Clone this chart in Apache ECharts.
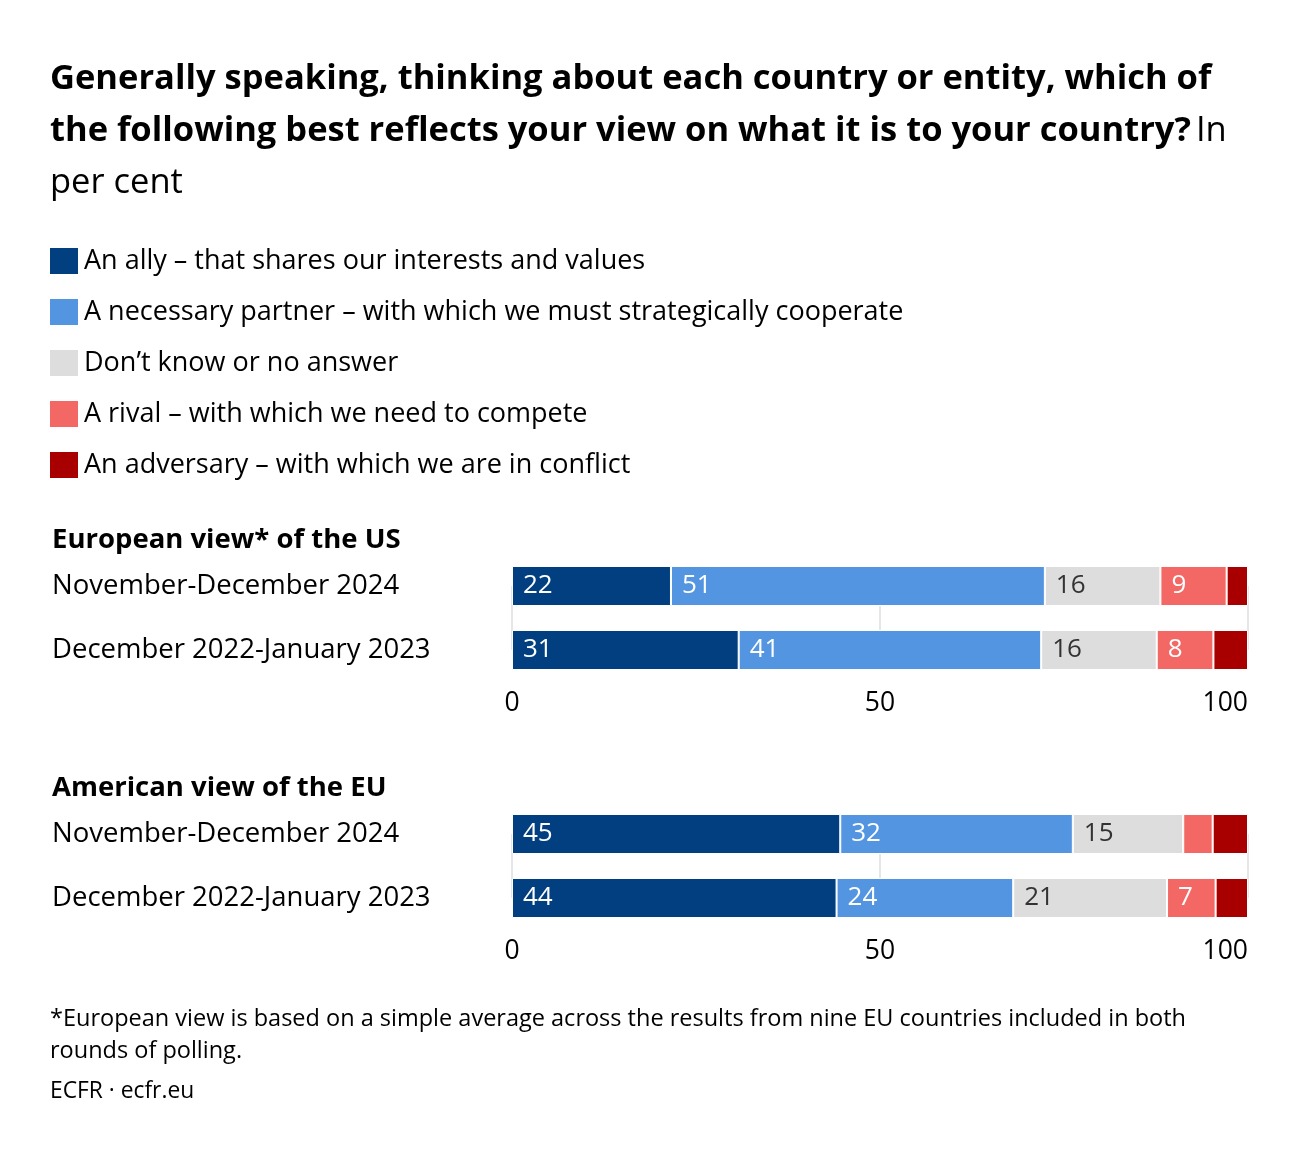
<!DOCTYPE html>
<html>
<head>
<meta charset="utf-8">
<script src="https://cdn.jsdelivr.net/npm/echarts@6/dist/echarts.min.js"></script>
<style>
html,body{margin:0;padding:0;background:#fff;}
#chart{width:1300px;height:1158px;}
</style>
</head>
<body>
<div id="chart"></div>
<script>
const categories = ['November-December 2024', 'December 2022-January 2023'];
const seriesNames = [
  'An ally – that shares our interests and values',
  'A necessary partner – with which we must strategically cooperate',
  'Don’t know or no answer',
  'A rival – with which we need to compete',
  'An adversary – with which we are in conflict'
];
const colors = ['#023f80', '#5395e1', '#dddddd', '#f36865', '#a80000'];
const labelColors = ['#ffffff', '#ffffff', '#333333', '#ffffff', '#ffffff'];

// European view of the US
const usAlly = [21.6, 30.8];
const usPartner = [50.8, 41.1];
const usDontKnow = [15.7, 15.7];
const usRival = [9.0, 7.7];
const usAdversary = [2.9, 4.7];

// American view of the EU
const euAlly = [44.6, 44.1];
const euPartner = [31.6, 24.0];
const euDontKnow = [15.0, 20.9];
const euRival = [4.0, 6.6];
const euAdversary = [4.8, 4.4];

const xTicks = [0, 50, 100];
const panelTitles = ['European view* of the US', 'American view of the EU'];

const FONT = 'Open Sans';
const usData = [usAlly, usPartner, usDontKnow, usRival, usAdversary];
const euData = [euAlly, euPartner, euDontKnow, euRival, euAdversary];

function makeSeries(dataSets, idx) {
  return dataSets.map((arr, i) => ({
    name: seriesNames[i],
    type: 'bar',
    stack: 'p' + idx,
    xAxisIndex: idx,
    yAxisIndex: idx,
    barWidth: 40,
    clip: false,
    data: arr,
    itemStyle: { color: colors[i], borderColor: '#ffffff', borderWidth: 1 },
    label: {
      show: true,
      position: 'insideLeft',
      distance: 11,
      color: labelColors[i],
      fontFamily: FONT,
      fontSize: 26,
      formatter: p => (p.value >= 6 ? String(Math.round(p.value)) : '')
    },
    emphasis: { disabled: true },
    silent: true
  }));
}

function xAxis(idx) {
  return {
    type: 'value', gridIndex: idx, min: 0, max: 100, interval: 50,
    axisLine: { show: false }, axisTick: { show: false },
    splitLine: { show: true, lineStyle: { color: '#e6e6e6', width: 2 } },
    axisLabel: {
      color: '#000', fontFamily: FONT, fontSize: 26.5, margin: 40,
      alignMaxLabel: 'right',
      formatter: v => (xTicks.indexOf(v) >= 0 ? String(v) : '')
    }
  };
}
function yAxis(idx) {
  return {
    type: 'category', gridIndex: idx, data: categories, inverse: true, boundaryGap: false,
    axisLine: { show: false }, axisTick: { show: false },
    axisLabel: { color: '#000', fontFamily: FONT, fontSize: 27.5, align: 'left', margin: 460 }
  };
}

const chart = echarts.init(document.getElementById('chart'), null, { renderer: 'canvas' });
chart.setOption({
  backgroundColor: '#ffffff',
  animation: false,
  title: [
    {
      left: 50, top: 53, padding: 0,
      text: '{b|Generally speaking, thinking about each country or entity, which of}\n{b|the following best reflects your view on what it is to your country?} {n|In}\n{n|per cent}',
      textStyle: {
        rich: {
          b: { fontFamily: FONT, fontWeight: 'bold', fontSize: 34.5, lineHeight: 52, color: '#000' },
          n: { fontFamily: FONT, fontWeight: 'normal', fontSize: 34.5, lineHeight: 52, color: '#000' }
        }
      }
    },
    { left: 52, top: 524, padding: 0, text: panelTitles[0], textStyle: { fontFamily: FONT, fontWeight: 'bold', fontSize: 27.5, color: '#000', lineHeight: 32 } },
    { left: 52, top: 772, padding: 0, text: panelTitles[1], textStyle: { fontFamily: FONT, fontWeight: 'bold', fontSize: 27.5, color: '#000', lineHeight: 32 } },
    {
      left: 50, top: 1003, padding: 0,
      text: '*European view is based on a simple average across the results from nine EU countries included in both\nrounds of polling.',
      textStyle: { fontFamily: FONT, fontWeight: 'normal', fontSize: 23.5, color: '#000', lineHeight: 32 }
    },
    { left: 50, top: 1078, padding: 0, text: 'ECFR · ecfr.eu', textStyle: { fontFamily: FONT, fontWeight: 'normal', fontSize: 22.8, color: '#000', lineHeight: 28 } }
  ],
  legend: {
    orient: 'vertical', left: 48, top: 246, padding: 0,
    itemWidth: 30, itemHeight: 28, itemGap: 21,
    icon: 'rect',
    data: seriesNames,
    selectedMode: false,
    textStyle: { fontFamily: FONT, fontSize: 27, color: '#000', lineHeight: 28 }
  },
  grid: [
    { left: 512, width: 736, top: 586, height: 64, containLabel: false },
    { left: 512, width: 736, top: 834, height: 64, containLabel: false }
  ],
  xAxis: [xAxis(0), xAxis(1)],
  yAxis: [yAxis(0), yAxis(1)],
  series: makeSeries(usData, 0).concat(makeSeries(euData, 1))
});
</script>
</body>
</html>
